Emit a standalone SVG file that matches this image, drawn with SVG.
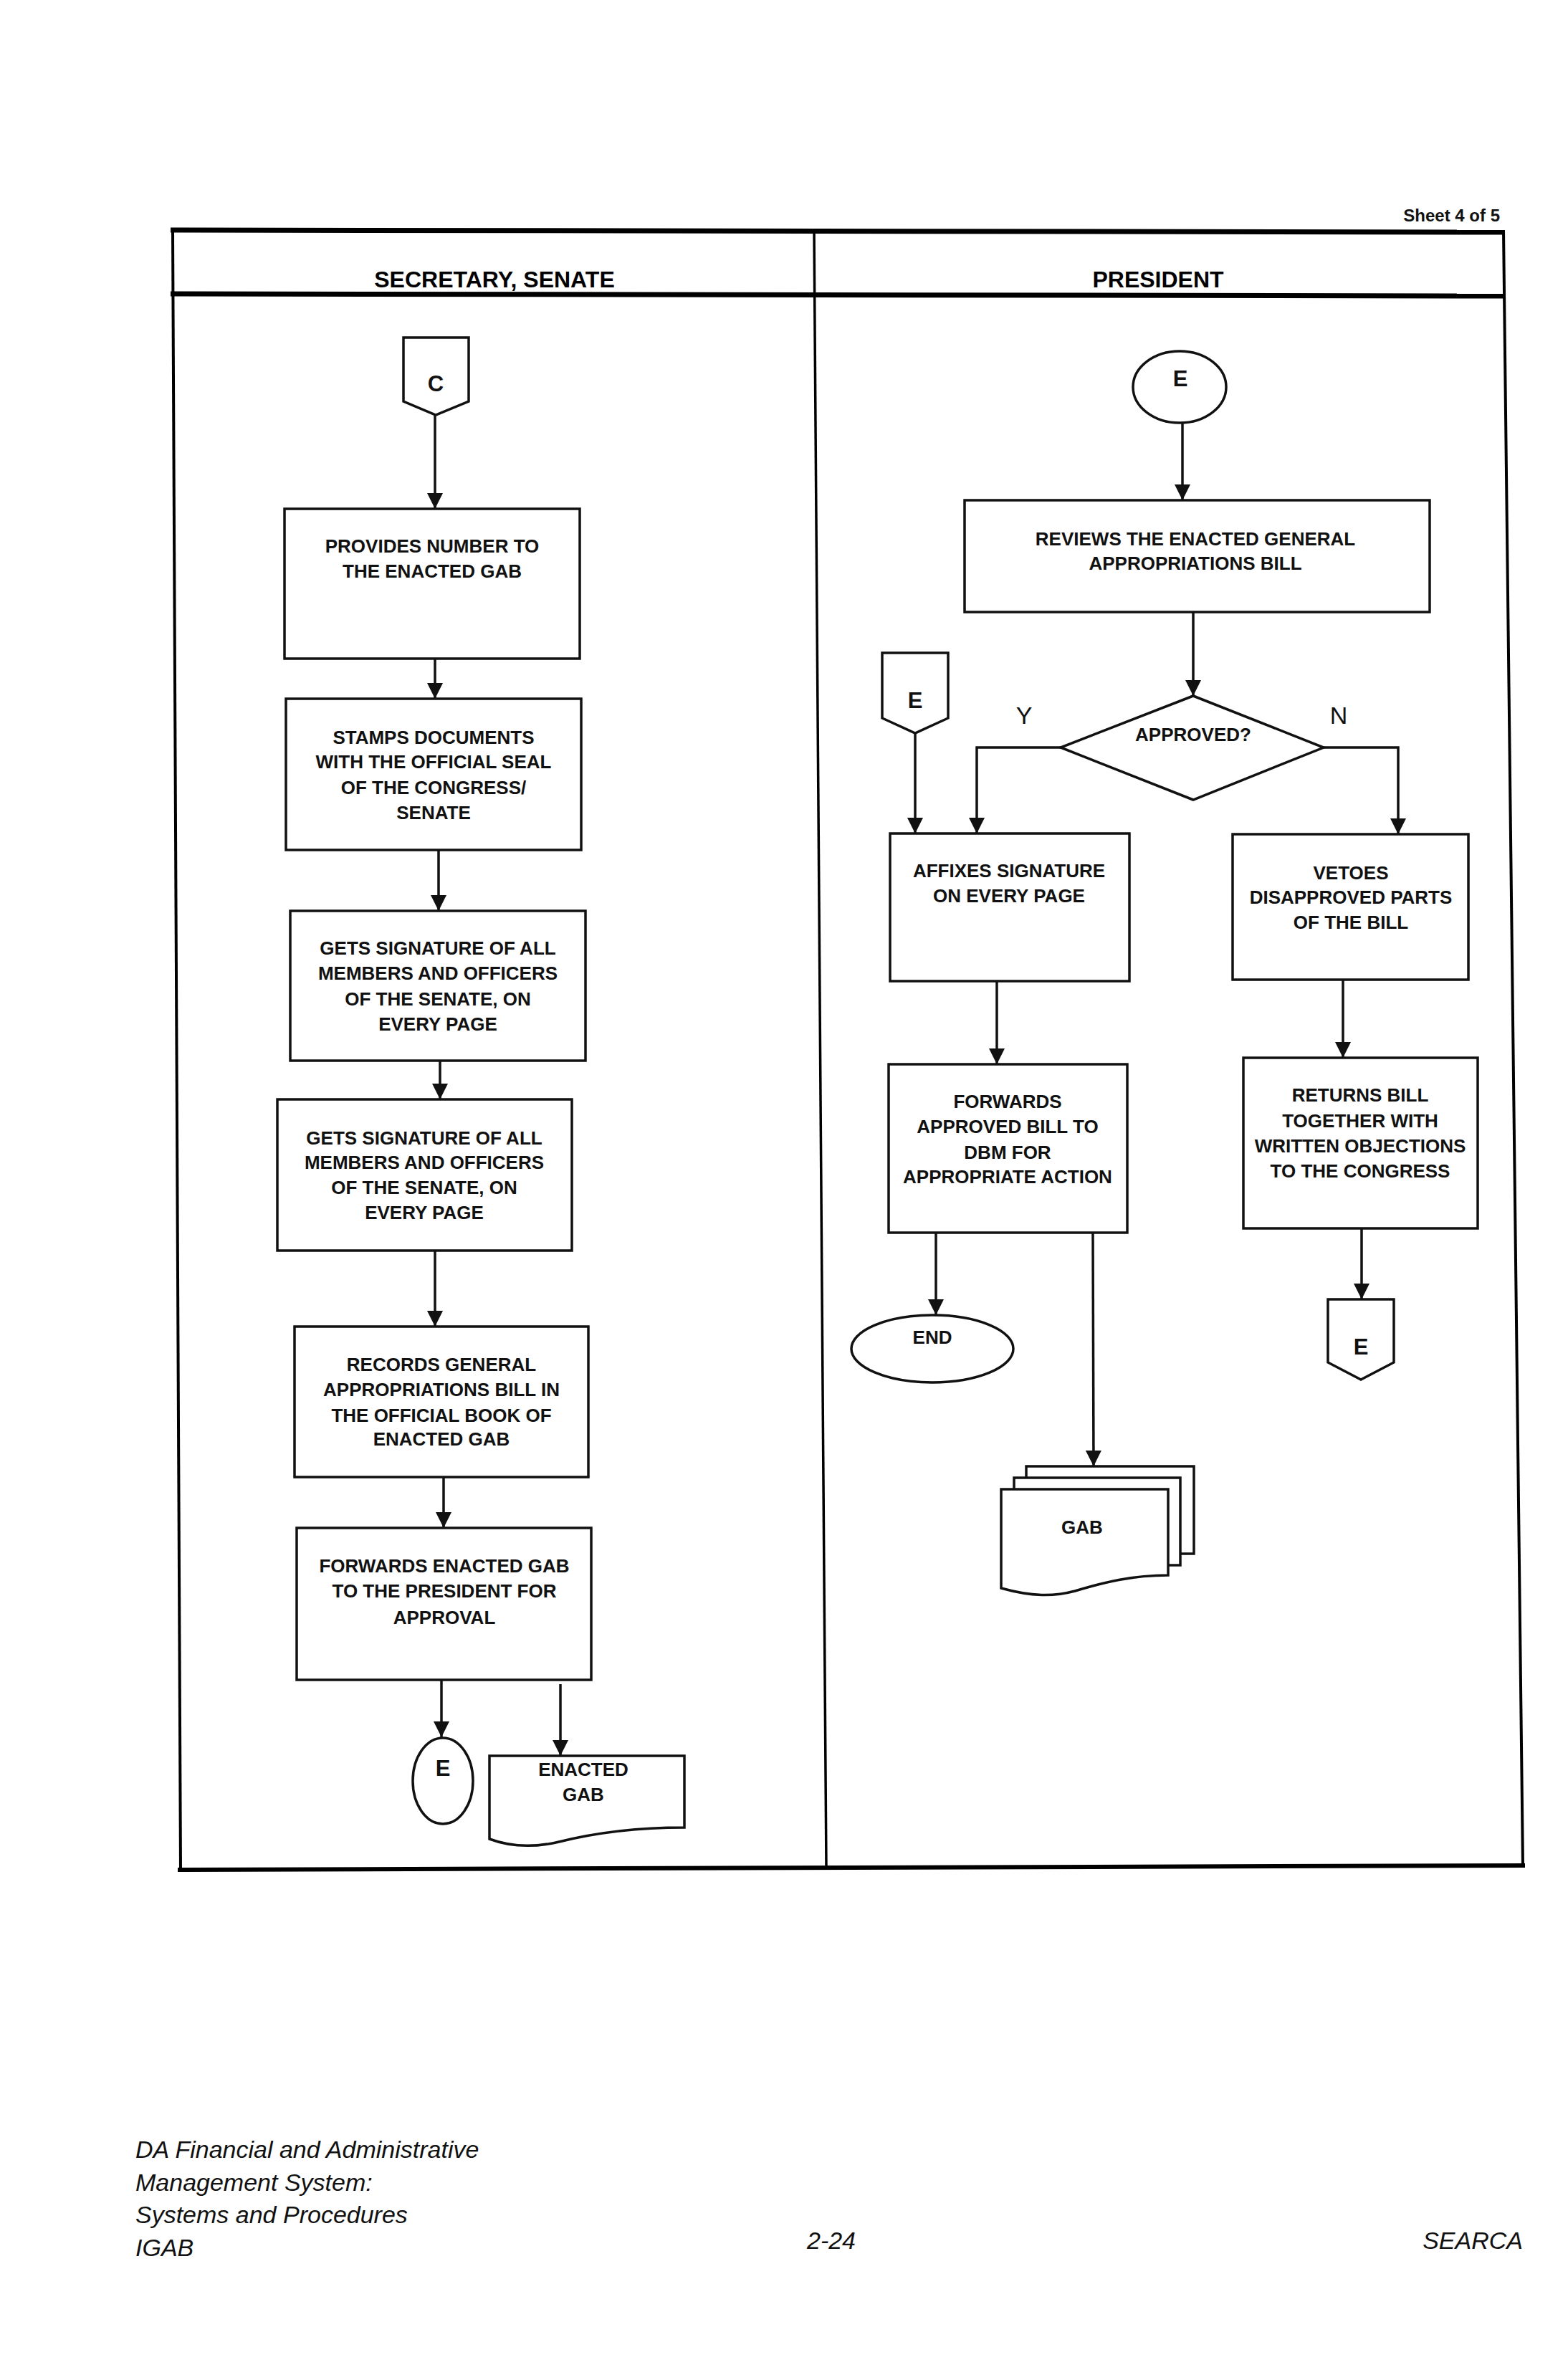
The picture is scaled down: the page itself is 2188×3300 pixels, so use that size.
<svg xmlns="http://www.w3.org/2000/svg" width="2188" height="3300" viewBox="0 0 2188 3300">
<style>
.frame{stroke:#000;fill:none}
.box{fill:#fff;stroke:#111;stroke-width:3.5}
.conn{fill:none;stroke:#111;stroke-width:3.5}
.t{font-family:"Liberation Sans",Arial,sans-serif;font-weight:bold;font-size:26px;fill:#111;text-anchor:middle}
.lbl{font-family:"Liberation Sans",Arial,sans-serif;font-weight:bold;font-size:31px;fill:#111;text-anchor:middle}
.yn{font-family:"Liberation Sans",Arial,sans-serif;font-size:34px;fill:#111;text-anchor:middle}
.hdr{font-family:"Liberation Sans",Arial,sans-serif;font-weight:bold;font-size:32px;fill:#000;text-anchor:middle}
.foot{font-family:"Liberation Sans",Arial,sans-serif;font-style:italic;font-size:34px;fill:#111}
</style>
<defs>
<marker id="ah" markerUnits="userSpaceOnUse" markerWidth="24" markerHeight="22" refX="22" refY="11" orient="auto">
<path d="M0,0 L22,11 L0,22 Z" fill="#111"/>
</marker>
</defs>
<rect width="2188" height="3300" fill="#fff"/>

<g id="frame">
<text x="2093" y="309" font-family="Liberation Sans, Arial, sans-serif" font-weight="bold" font-size="24" text-anchor="end" fill="#111">Sheet 4 of 5</text>
<line class="frame" x1="238" y1="321" x2="2100" y2="324" stroke-width="7"/>
<line class="frame" x1="238" y1="410" x2="2100" y2="413" stroke-width="7"/>
<line class="frame" x1="248" y1="2609" x2="2128" y2="2603" stroke-width="6"/>
<line class="frame" x1="241" y1="321" x2="252" y2="2609" stroke-width="4"/>
<line class="frame" x1="1136" y1="322" x2="1153" y2="2607" stroke-width="3.5"/>
<line class="frame" x1="2098" y1="322" x2="2125" y2="2604" stroke-width="4"/>
<text class="hdr" x="690" y="401">SECRETARY, SENATE</text>
<text class="hdr" x="1616" y="401">PRESIDENT</text>
</g>

<g id="connectors">
<line class="conn" x1="607" y1="579" x2="607" y2="710" marker-end="url(#ah)"/>
<line class="conn" x1="607" y1="919" x2="607" y2="975" marker-end="url(#ah)"/>
<line class="conn" x1="612" y1="1186" x2="612" y2="1271" marker-end="url(#ah)"/>
<line class="conn" x1="614" y1="1480" x2="614" y2="1534" marker-end="url(#ah)"/>
<line class="conn" x1="607" y1="1745" x2="607" y2="1851" marker-end="url(#ah)"/>
<line class="conn" x1="619" y1="2061" x2="619" y2="2132" marker-end="url(#ah)"/>
<line class="conn" x1="616" y1="2344" x2="616" y2="2424" marker-end="url(#ah)"/>
<line class="conn" x1="782" y1="2350" x2="782" y2="2450" marker-end="url(#ah)"/>
<line class="conn" x1="1650" y1="590" x2="1650" y2="698" marker-end="url(#ah)"/>
<line class="conn" x1="1665" y1="854" x2="1665" y2="971" marker-end="url(#ah)"/>
<polyline class="conn" points="1480,1043 1363,1043 1363,1163" marker-end="url(#ah)"/>
<polyline class="conn" points="1847,1043 1951,1043 1951,1164" marker-end="url(#ah)"/>
<line class="conn" x1="1277" y1="1023" x2="1277" y2="1163" marker-end="url(#ah)"/>
<line class="conn" x1="1391" y1="1369" x2="1391" y2="1485" marker-end="url(#ah)"/>
<line class="conn" x1="1874" y1="1367" x2="1874" y2="1476" marker-end="url(#ah)"/>
<line class="conn" x1="1306" y1="1720" x2="1306" y2="1835" marker-end="url(#ah)"/>
<line class="conn" x1="1525" y1="1720" x2="1526" y2="2046" marker-end="url(#ah)"/>
<line class="conn" x1="1900" y1="1714" x2="1900" y2="1813" marker-end="url(#ah)"/>
</g>

<g id="C-left">
<path class="box" d="M563,471 H654 V560 L608,579 L563,560 Z"/>
<text class="lbl" x="608" y="546">C</text>
</g>
<g id="provides">
<rect class="box" x="397" y="710" width="412" height="209"/>
<text class="t" x="603" y="771">PROVIDES NUMBER TO</text>
<text class="t" x="603" y="806">THE ENACTED GAB</text>
</g>
<g id="stamps">
<rect class="box" x="399" y="975" width="412" height="211"/>
<text class="t" x="605" y="1038">STAMPS DOCUMENTS</text>
<text class="t" x="605" y="1072">WITH THE OFFICIAL SEAL</text>
<text class="t" x="605" y="1108">OF THE CONGRESS/</text>
<text class="t" x="605" y="1143">SENATE</text>
</g>
<g id="gets1">
<rect class="box" x="405" y="1271" width="412" height="209"/>
<text class="t" x="611" y="1332">GETS SIGNATURE OF ALL</text>
<text class="t" x="611" y="1367">MEMBERS AND OFFICERS</text>
<text class="t" x="611" y="1403">OF THE SENATE, ON</text>
<text class="t" x="611" y="1438">EVERY PAGE</text>
</g>
<g id="gets2">
<rect class="box" x="387" y="1534" width="411" height="211"/>
<text class="t" x="592" y="1597">GETS SIGNATURE OF ALL</text>
<text class="t" x="592" y="1631">MEMBERS AND OFFICERS</text>
<text class="t" x="592" y="1666">OF THE SENATE, ON</text>
<text class="t" x="592" y="1701">EVERY PAGE</text>
</g>
<g id="records">
<rect class="box" x="411" y="1851" width="410" height="210"/>
<text class="t" x="616" y="1913">RECORDS GENERAL</text>
<text class="t" x="616" y="1948">APPROPRIATIONS BILL IN</text>
<text class="t" x="616" y="1984">THE OFFICIAL BOOK OF</text>
<text class="t" x="616" y="2017">ENACTED GAB</text>
</g>
<g id="forwards-gab">
<rect class="box" x="414" y="2132" width="411" height="212"/>
<text class="t" x="620" y="2194">FORWARDS ENACTED GAB</text>
<text class="t" x="620" y="2229">TO THE PRESIDENT FOR</text>
<text class="t" x="620" y="2266">APPROVAL</text>
</g>
<g id="E-left">
<ellipse class="box" cx="618" cy="2485" rx="42" ry="60"/>
<text class="lbl" x="618" y="2478">E</text>
</g>
<g id="enacted-gab-doc">
<path class="box" d="M683,2450 H955 V2550 C880,2550 820,2560 780,2570 C750,2577 715,2578 683,2566 Z"/>
<text class="t" x="814" y="2478">ENACTED</text>
<text class="t" x="814" y="2513">GAB</text>
</g>

<g id="E-top">
<ellipse class="box" cx="1646" cy="540" rx="65" ry="50"/>
<text class="lbl" x="1647" y="539">E</text>
</g>
<g id="reviews">
<rect class="box" x="1346" y="698" width="649" height="156"/>
<text class="t" x="1668" y="761">REVIEWS THE ENACTED GENERAL</text>
<text class="t" x="1668" y="795">APPROPRIATIONS BILL</text>
</g>
<g id="approved">
<path class="box" d="M1665,971 L1847,1043 L1665,1116 L1480,1043 Z"/>
<text class="t" x="1665" y="1034">APPROVED?</text>
<text class="yn" x="1429" y="1010">Y</text>
<text class="yn" x="1868" y="1010">N</text>
</g>
<g id="E-offpage-in">
<path class="box" d="M1231,911 H1323 V1002 L1277,1023 L1231,1002 Z"/>
<text class="lbl" x="1277" y="988">E</text>
</g>
<g id="affixes">
<rect class="box" x="1242" y="1163" width="334" height="206"/>
<text class="t" x="1408" y="1224">AFFIXES SIGNATURE</text>
<text class="t" x="1408" y="1259">ON EVERY PAGE</text>
</g>
<g id="vetoes">
<rect class="box" x="1720" y="1164" width="329" height="203"/>
<text class="t" x="1885" y="1227">VETOES</text>
<text class="t" x="1885" y="1261">DISAPPROVED PARTS</text>
<text class="t" x="1885" y="1296">OF THE BILL</text>
</g>
<g id="forwards-approved">
<rect class="box" x="1240" y="1485" width="333" height="235"/>
<text class="t" x="1406" y="1546">FORWARDS</text>
<text class="t" x="1406" y="1581">APPROVED BILL TO</text>
<text class="t" x="1406" y="1617">DBM FOR</text>
<text class="t" x="1406" y="1651">APPROPRIATE ACTION</text>
</g>
<g id="returns">
<rect class="box" x="1735" y="1476" width="327" height="238"/>
<text class="t" x="1898" y="1537">RETURNS BILL</text>
<text class="t" x="1898" y="1573">TOGETHER WITH</text>
<text class="t" x="1898" y="1608">WRITTEN OBJECTIONS</text>
<text class="t" x="1898" y="1643">TO THE CONGRESS</text>
</g>
<g id="E-offpage-out">
<path class="box" d="M1853,1813 H1945 V1901 L1899,1925 L1853,1901 Z"/>
<text class="lbl" x="1899" y="1890">E</text>
</g>
<g id="end">
<ellipse class="box" cx="1301" cy="1882" rx="113" ry="47"/>
<text class="t" x="1301" y="1875">END</text>
</g>
<g id="gab-docs">
<rect class="box" x="1432" y="2046" width="234" height="122"/>
<rect class="box" x="1415" y="2062" width="232" height="122"/>
<path class="box" d="M1397,2078 H1630 V2198 C1580,2198 1540,2208 1500,2220 C1470,2228 1440,2228 1397,2216 Z"/>
<text class="t" x="1510" y="2140">GAB</text>
</g>

<g id="footer">
<text class="foot" x="189" y="3011">DA Financial and Administrative</text>
<text class="foot" x="189" y="3057">Management System:</text>
<text class="foot" x="189" y="3102">Systems and Procedures</text>
<text class="foot" x="189" y="3148">IGAB</text>
<text class="foot" x="1160" y="3138" text-anchor="middle">2-24</text>
<text class="foot" x="2125" y="3138" text-anchor="end">SEARCA</text>
</g>
</svg>
